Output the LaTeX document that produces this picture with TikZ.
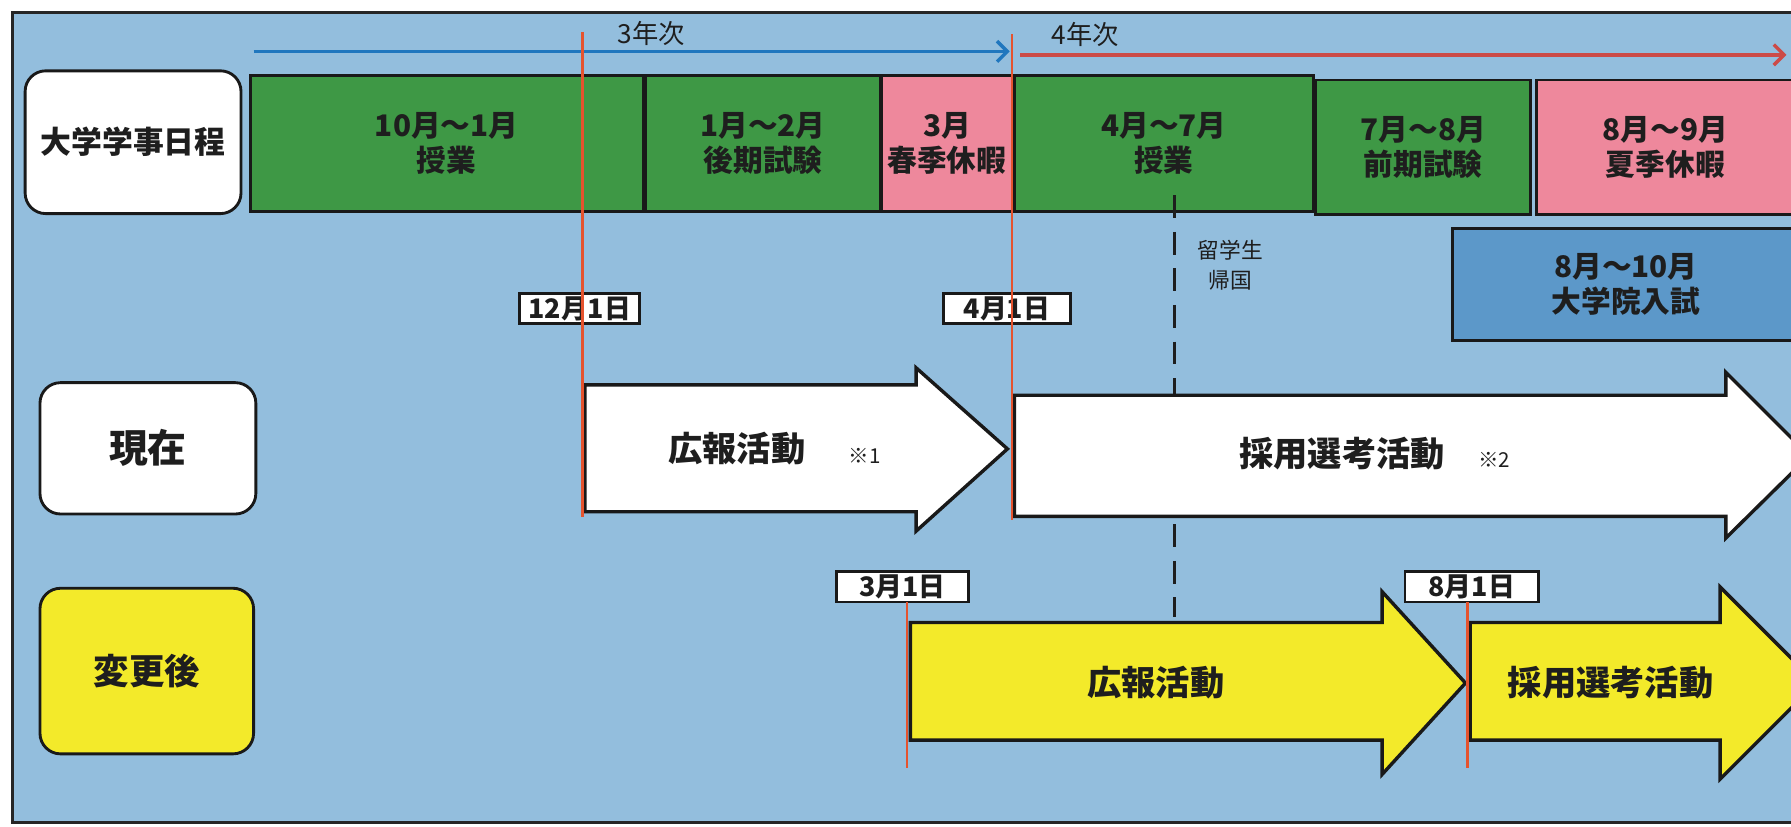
\documentclass[tikz,border=0pt]{standalone}
\usepackage{fontspec}
\setmainfont{Noto Sans CJK JP}
\usetikzlibrary{arrows.meta}
\definecolor{panel}{HTML}{93BEDD}
\definecolor{cgreen}{HTML}{3E9845}
\definecolor{cpink}{HTML}{EE889C}
\definecolor{cgrad}{HTML}{5C98C9}
\definecolor{cyellow}{HTML}{F3EA2A}
\definecolor{cblue}{HTML}{2077BE}
\definecolor{cred}{HTML}{CC4B47}
\definecolor{vline}{HTML}{E5532E}
\definecolor{ink}{HTML}{1E1E1E}
\begin{document}
\begin{tikzpicture}[x=1pt,y=-1pt,
  box/.style={draw=black!90, line width=2.5pt, inner sep=0pt, outer sep=0pt, align=center, text=ink},
  cell/.style={box, font=\bfseries\fontsize{26}{31}\selectfont},
  lbl/.style={box, rounded corners=18pt, fill=white, font=\bfseries\fontsize{27}{27}\selectfont},
  datebox/.style={box, fill=white, font=\bfseries\fontsize{23.5}{23.5}\selectfont},
  act/.style={draw=black!90, line width=3pt, line join=miter},
  big/.style={text=ink, font=\bfseries\fontsize{30}{30}\selectfont, inner sep=0pt},
  note/.style={text=ink, font=\fontsize{18}{18}\selectfont, inner sep=0pt},
  small/.style={text=ink, font=\fontsize{19}{26}\selectfont, inner sep=0pt, align=center},
  year/.style={text=ink, font=\fontsize{23}{23}\selectfont, inner sep=0pt},
  redline/.style={draw=vline, line width=2.5pt},
  tl/.style={line width=3pt, -{Straight Barb[length=9pt,width=18pt,line width=3pt]}}
]
\useasboundingbox (0,0) rectangle (1568,724);
\fill[white] (0,0) rectangle (1568,724);
% panel
\fill[panel] (11,11) rectangle (1580,720);
\draw[line width=2pt, black!85] (1580,11) -- (11,11) -- (11,720) -- (1580,720);

% year lines
\coordinate (b0) at (222,45);
\coordinate (b1) at (884,45);
\coordinate (r0) at (893,48);
\coordinate (r1) at (1564,48);
\draw[tl, cblue] (b0) -- (b1);
\draw[tl, cred] (r0) -- (r1);
\node[year] (y3) at (570,29) {3年次};
\node[year] (y4) at (950,30) {4年次};

% schedule row
\node[lbl, minimum width=189pt, minimum height=125pt] (L1) at (116.5,124.5) {大学学事日程};
\node[cell, fill=cgreen, minimum width=344pt, minimum height=119pt] (c1) at (391,125.5) {10月～1月\\授業};
\node[cell, fill=cgreen, minimum width=206pt, minimum height=119pt] (c2) at (668,125.5) {1月～2月\\後期試験};
\node[cell, fill=cpink, minimum width=114pt, minimum height=119pt] (c3) at (829,125.5) {3月\\春季休暇};
\node[cell, fill=cgreen, minimum width=262pt, minimum height=119pt] (c4) at (1019,125.5) {4月～7月\\授業};
\node[cell, fill=cgreen, minimum width=188pt, minimum height=118pt] (c5) at (1246,129) {7月～8月\\前期試験};
\node[cell, fill=cpink, minimum width=226pt, minimum height=118pt] (c6) at (1458,129) {8月～9月\\夏季休暇};

% dashed line (return of students)
\coordinate (dsh0) at (1028,171);
\coordinate (dsh1) at (1028,540);
\draw[line width=3pt, ink, dash pattern=on 20pt off 12pt] (dsh0) -- (dsh1);
\node[small] (ret) at (1077,232) {留学生\\帰国};

% graduate exams
\node[cell, fill=cgrad, minimum width=303pt, minimum height=98pt] (grad) at (1423.5,249) {8月～10月\\大学院入試};

% row labels
\node[lbl, minimum width=189pt, minimum height=115pt, font=\bfseries\fontsize{34}{34}\selectfont] (L2) at (129.5,392.5) {現在};
\node[lbl, fill=cyellow, minimum width=187pt, minimum height=145pt, font=\bfseries\fontsize{31}{31}\selectfont] (L3) at (128.5,587.5) {変更後};

% current arrows
\draw[act, fill=white] (512,337) -- (802,337) -- (802,322) -- (882,393) -- (802,465) -- (802,448) -- (512,448) -- cycle;
\draw[act, fill=white] (888,346) -- (1511,346) -- (1511,326) -- (1584,399) -- (1511,471) -- (1511,452) -- (888,452) -- cycle;
\node[big] (t1) at (645,393) {広報活動};
\node[note] (n1) at (757,399) {※1};
\node[big] (t2) at (1175,397) {採用選考活動};
\node[note] (n2) at (1308,403) {※2};

% new arrows
\draw[act, fill=cyellow] (797,545) -- (1210,545) -- (1210,518) -- (1283,598) -- (1210,678) -- (1210,648) -- (797,648) -- cycle;
\draw[act, fill=cyellow] (1287,545) -- (1506,545) -- (1506,514) -- (1590,598) -- (1506,682) -- (1506,648) -- (1287,648) -- cycle;
\node[big] (t3) at (1012,598) {広報活動};
\node[big] (t4) at (1410,598) {採用選考活動};

% date boxes
\node[datebox, minimum width=105pt, minimum height=26pt] (d1) at (507.5,270) {12月1日};
\node[datebox, minimum width=111pt, minimum height=26pt] (d2) at (881.5,270) {4月1日};
\node[datebox, minimum width=116pt, minimum height=27pt] (d3) at (790,513.5) {3月1日};
\node[datebox, minimum width=117pt, minimum height=27pt] (d4) at (1288.5,513.5) {8月1日};

% red date lines
\coordinate (v1a) at (510,28);  \coordinate (v1b) at (510,453);
\coordinate (v2a) at (886,30);  \coordinate (v2b) at (886,455);
\coordinate (v3a) at (794,527); \coordinate (v3b) at (794,672);
\coordinate (v4a) at (1285,527); \coordinate (v4b) at (1285,672);
\draw[redline] (v1a) -- (v1b);
\draw[redline] (v2a) -- (v2b);
\draw[redline] (v3a) -- (v3b);
\draw[redline] (v4a) -- (v4b);
\end{tikzpicture}
\end{document}
